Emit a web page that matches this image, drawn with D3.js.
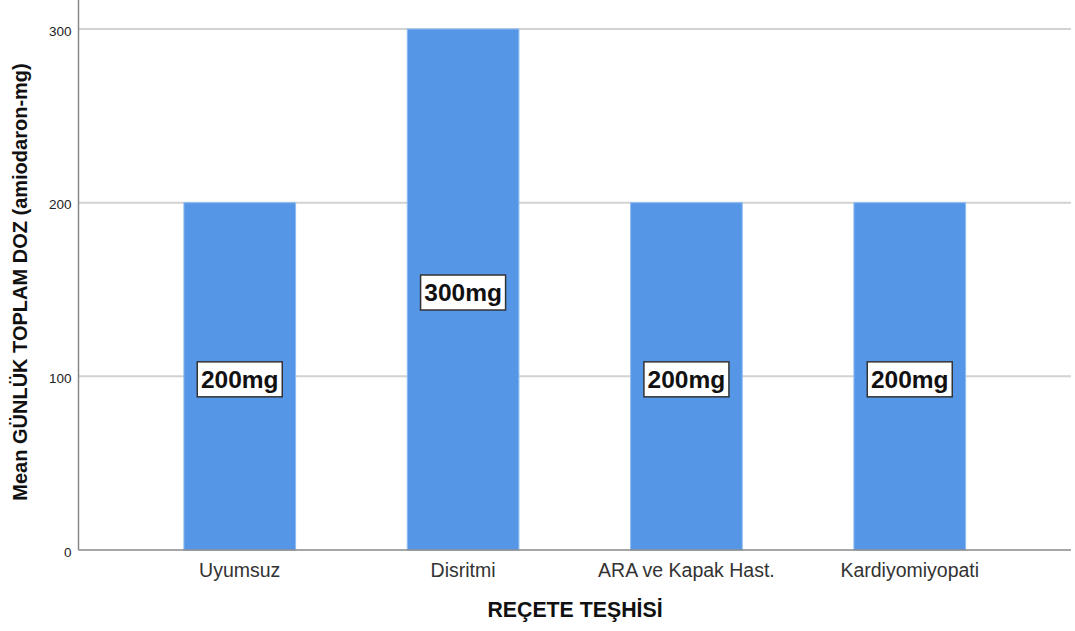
<!DOCTYPE html>
<html>
<head>
<meta charset="utf-8">
<script src="https://cdn.jsdelivr.net/npm/d3@7"></script>
<style>
  body { margin: 0; background: #fff; }
  svg { display: block; font-family: Arial, "Liberation Sans", sans-serif; }
</style>
</head>
<body>
<svg id="chart" width="1075" height="631"></svg>
<script>
// Mean daily total dose per prescription diagnosis
const categories = ["Uyumsuz", "Disritmi", "ARA ve Kapak Hast.", "Kardiyomiyopati"];
const meanDose = [200, 300, 200, 200];
const doseLabels = ["200mg", "300mg", "200mg", "200mg"];
const yTicks = [0, 100, 200, 300];

const svg = d3.select("#chart");
const plotLeft = 78.5, plotRight = 1071, plotTop = 0, plotBottom = 550;

const x = d3.scaleBand()
  .domain(categories)
  .range([plotLeft, plotRight])
  .paddingInner(0.5)
  .paddingOuter(0.472);

const y = d3.scaleLinear()
  .domain([0, 300])
  .range([plotBottom, 29]);

// gridlines
svg.append("g")
  .selectAll("line")
  .data(yTicks.filter(d => d > 0))
  .join("line")
  .attr("x1", plotLeft).attr("x2", plotRight)
  .attr("y1", d => y(d)).attr("y2", d => y(d))
  .attr("stroke", "#d2d2d2")
  .attr("stroke-width", 2);

// bars
svg.append("g")
  .selectAll("rect")
  .data(categories)
  .join("rect")
  .attr("x", d => x(d))
  .attr("width", x.bandwidth())
  .attr("y", (d, i) => y(meanDose[i]))
  .attr("height", (d, i) => y(0) - y(meanDose[i]))
  .attr("fill", "#5596e6")
  .attr("stroke", "#8fbcf2")
  .attr("stroke-width", 1);

// y axis
const yAxis = svg.append("g")
  .attr("transform", `translate(${plotLeft},0)`)
  .call(d3.axisLeft(y).tickValues(yTicks).tickSize(0).tickPadding(7));
yAxis.select(".domain").attr("stroke", "#888").attr("stroke-width", 1.5)
  .attr("d", `M0,${plotTop}V${plotBottom}`);
yAxis.selectAll("text").attr("font-size", 13.5).attr("fill", "#222")
  .attr("dy", "0.45em")
  .attr("font-family", "Arial, 'Liberation Sans', sans-serif");

// x axis
const xAxis = svg.append("g")
  .attr("transform", `translate(0,${plotBottom})`)
  .call(d3.axisBottom(x).tickSize(0).tickPadding(13));
xAxis.select(".domain").attr("stroke", "#888").attr("stroke-width", 1.5)
  .attr("d", `M${plotLeft},0H${plotRight}`);
xAxis.selectAll("text").attr("font-size", 19.5).attr("fill", "#333")
  .attr("font-family", "Arial, 'Liberation Sans', sans-serif");

// value labels
const labels = svg.append("g")
  .selectAll("g")
  .data(categories)
  .join("g")
  .attr("transform", (d, i) => `translate(${x(d) + x.bandwidth() / 2},${y(meanDose[i] / 2) + 3})`);

labels.append("rect")
  .attr("x", -42.5).attr("y", -17.5)
  .attr("width", 85).attr("height", 35)
  .attr("fill", "#fff")
  .attr("stroke", "#333")
  .attr("stroke-width", 1.5);

labels.append("text")
  .attr("text-anchor", "middle")
  .attr("dy", "0.36em")
  .attr("font-size", 24.5)
  .attr("font-weight", "bold")
  .attr("fill", "#111")
  .text((d, i) => doseLabels[i]);

// axis titles
svg.append("text")
  .attr("x", 575).attr("y", 610)
  .attr("dy", "0.35em")
  .attr("text-anchor", "middle")
  .attr("font-size", 21.3)
  .attr("font-weight", "bold")
  .attr("fill", "#111")
  .text("REÇETE TEŞHİSİ");

svg.append("text")
  .attr("transform", `translate(19.5,282) rotate(-90)`)
  .attr("dy", "0.35em")
  .attr("text-anchor", "middle")
  .attr("font-size", 20)
  .attr("font-weight", "bold")
  .attr("fill", "#111")
  .text("Mean GÜNLÜK TOPLAM DOZ (amiodaron-mg)");
</script>
</body>
</html>
